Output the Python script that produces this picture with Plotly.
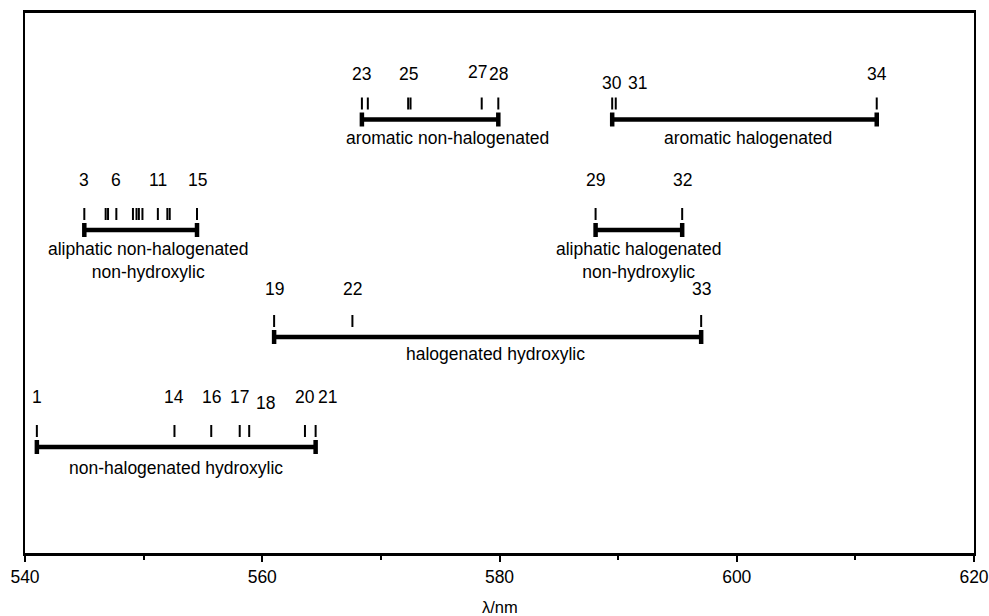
import plotly.graph_objects as go

# Compound numbers and absorption maxima (nm) for each solvent class
nonhal_hyd_ids = [1, 14, 16, 17, 18, 20, 21]
nonhal_hyd_nm = [541.0, 552.6, 555.7, 558.1, 558.9, 563.6, 564.5]

hal_hyd_ids = [19, 22, 33]
hal_hyd_nm = [561.0, 567.6, 597.0]

aliph_nonhal_ids = [3, 4, 5, 6, 7, 8, 9, 10, 11, 12, 13, 15]
aliph_nonhal_nm = [545.0, 546.8, 547.0, 547.7, 549.1, 549.4, 549.6, 549.9,
                   551.2, 552.0, 552.2, 554.5]

aliph_hal_ids = [29, 32]
aliph_hal_nm = [588.1, 595.4]

arom_nonhal_ids = [23, 24, 25, 26, 27, 28]
arom_nonhal_nm = [568.4, 568.9, 572.3, 572.5, 578.5, 579.9]

arom_hal_ids = [30, 31, 34]
arom_hal_nm = [589.5, 589.8, 611.8]

# numbered compounds in each class
labelled = {
    "nonhal_hyd": [1, 14, 16, 17, 18, 20, 21],
    "hal_hyd": [19, 22, 33],
    "aliph_nonhal": [3, 6, 11, 15],
    "aliph_hal": [29, 32],
    "arom_nonhal": [23, 25, 27, 28],
    "arom_hal": [30, 31, 34],
}

class_names = {
    "nonhal_hyd": "non-halogenated hydroxylic",
    "hal_hyd": "halogenated hydroxylic",
    "aliph_nonhal": "aliphatic non-halogenated<br>non-hydroxylic",
    "aliph_hal": "aliphatic halogenated<br>non-hydroxylic",
    "arom_nonhal": "aromatic non-halogenated",
    "arom_hal": "aromatic halogenated",
}

# ---- layout / styling ----
FONT = "Liberation Sans, Arial, sans-serif"
FS = 17.5
rows = {  # vertical level of each class (axis units, top = 0)
    "arom_nonhal": 106.5, "arom_hal": 106.5,
    "aliph_nonhal": 217, "aliph_hal": 217,
    "hal_hyd": 324, "nonhal_hyd": 434,
}
num_dy = {"nonhal_hyd": -50, "hal_hyd": -48, "aliph_nonhal": -50,
          "aliph_hal": -50, "arom_nonhal": -46, "arom_hal": -37}
num_shift = {18: (16, 6), 21: (12, 0), 27: (-4, -2), 31: (22, 0), 34: (0, -9)}
name_dy = {"nonhal_hyd": 21, "hal_hyd": 17, "aliph_nonhal": 30,
           "aliph_hal": 30, "arom_nonhal": 18, "arom_hal": 18}
name_dx = {"nonhal_hyd": 0, "hal_hyd": 8, "aliph_nonhal": 7,
           "aliph_hal": 0, "arom_nonhal": 17, "arom_hal": 4}

data = {
    "nonhal_hyd": (nonhal_hyd_ids, nonhal_hyd_nm),
    "hal_hyd": (hal_hyd_ids, hal_hyd_nm),
    "aliph_nonhal": (aliph_nonhal_ids, aliph_nonhal_nm),
    "aliph_hal": (aliph_hal_ids, aliph_hal_nm),
    "arom_nonhal": (arom_nonhal_ids, arom_nonhal_nm),
    "arom_hal": (arom_hal_ids, arom_hal_nm),
}

fig = go.Figure()
annotations = []

for key, (ids, nm) in data.items():
    y0 = rows[key]
    lo, hi = min(nm), max(nm)

    # small tick for every compound
    tx, ty = [], []
    for v in nm:
        tx += [v, v, None]
        ty += [y0 - 22, y0 - 10, None]
    fig.add_trace(go.Scatter(x=tx, y=ty, mode="lines",
                             line=dict(color="black", width=2),
                             hoverinfo="skip", showlegend=False))

    # range bar with end caps
    fig.add_trace(go.Scatter(x=[lo, hi], y=[y0, y0], mode="lines",
                             line=dict(color="black", width=4.5),
                             hoverinfo="skip", showlegend=False))
    fig.add_trace(go.Scatter(x=[lo, lo, None, hi, hi],
                             y=[y0 - 7, y0 + 7, None, y0 - 7, y0 + 7],
                             mode="lines",
                             line=dict(color="black", width=4.5),
                             hoverinfo="skip", showlegend=False))

    # compound numbers
    for cid in labelled[key]:
        v = nm[ids.index(cid)]
        dx, dy = num_shift.get(cid, (0, 0))
        annotations.append(dict(x=v, y=y0 + num_dy[key] + dy, text=str(cid),
                                showarrow=False, xshift=dx,
                                font=dict(family=FONT, size=FS, color="black"),
                                xanchor="center", yanchor="middle"))

    # class name under the bar
    annotations.append(dict(x=(lo + hi) / 2, y=y0 + name_dy[key],
                            text=class_names[key], showarrow=False,
                            xshift=name_dx[key],
                            font=dict(family=FONT, size=FS, color="black"),
                            xanchor="center", yanchor="middle", align="center"))

annotations.append(dict(x=0.5, y=-0.1, xref="paper", yref="paper",
                        text="λ/nm", showarrow=False,
                        font=dict(family=FONT, size=16.5, color="black"),
                        xanchor="center", yanchor="middle"))

fig.update_layout(
    width=989, height=616,
    margin=dict(l=25, r=15, t=13, b=63),
    paper_bgcolor="white", plot_bgcolor="white",
    annotations=annotations,
    xaxis=dict(range=[540, 620], dtick=20, tick0=540, automargin=False,
               ticks="outside", ticklen=6, tickwidth=2, tickcolor="black",
               minor=dict(dtick=10, ticks="outside", ticklen=4, tickwidth=2,
                          tickcolor="black"),
               showgrid=False, zeroline=False,
               showline=True, linewidth=2.7, linecolor="black", mirror=True,
               tickfont=dict(family=FONT, size=FS, color="black")),
    yaxis=dict(range=[540, 0], showticklabels=False, ticks="", automargin=False,
               showgrid=False, zeroline=False,
               showline=True, linewidth=2, linecolor="black", mirror=True),
)

fig.write_html("out.html")
